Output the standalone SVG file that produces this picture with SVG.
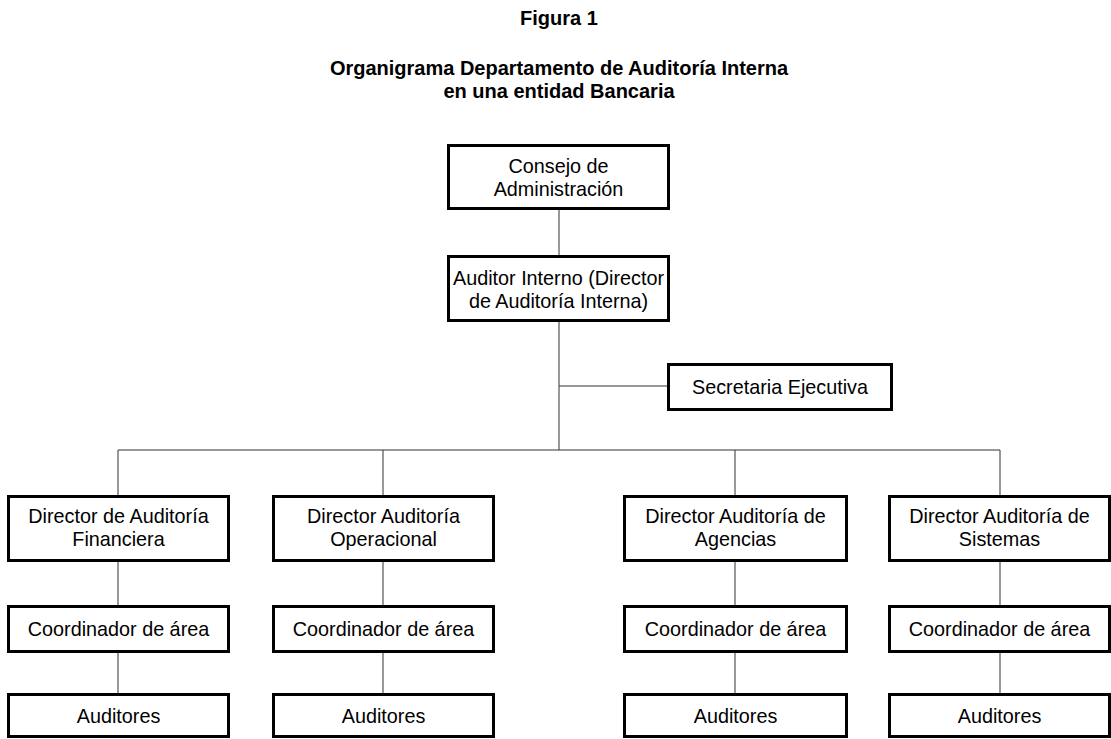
<svg xmlns="http://www.w3.org/2000/svg" width="1111" height="739" viewBox="0 0 1111 739">
<style>
.box{fill:#fff;stroke:#000;stroke-width:3}
.t{font-family:"Liberation Sans",Arial,sans-serif;font-size:19.8px;fill:#000;text-anchor:middle}
.h{font-family:"Liberation Sans",Arial,sans-serif;font-size:20px;font-weight:bold;fill:#000;text-anchor:middle}
.c{stroke:#333;stroke-width:1;fill:none}
</style>
<rect width="1111" height="739" fill="#fff"/>
<g id="title">
<text class="h" x="559" y="25">Figura 1</text>
<text class="h" x="559" y="75">Organigrama Departamento de Auditoría Interna</text>
<text class="h" x="559" y="98">en una entidad Bancaria</text>
</g>
<g id="connectors">
<path class="c" d="M559 210V255M559 322V450M559 386H667M118 450H1000M118 450V495M383 450V495M735 450V495M1000 450V495"/>
<path class="c" d="M118 562V605M383 562V605M735 562V605M1000 562V605M118 653V693M383 653V693M735 653V693M1000 653V693"/>
</g>
<g id="consejo"><rect class="box" x="448.5" y="145.5" width="220" height="63"/>
<text class="t" x="558.5" y="173">Consejo de</text><text class="t" x="558.5" y="196">Administración</text></g>
<g id="auditor-interno"><rect class="box" x="448.5" y="256.5" width="220" height="64"/>
<text class="t" x="558.5" y="285">Auditor Interno (Director</text><text class="t" x="558.5" y="308">de Auditoría Interna)</text></g>
<g id="secretaria"><rect class="box" x="668.5" y="364.5" width="223" height="45"/>
<text class="t" x="780" y="394">Secretaria Ejecutiva</text></g>
<g id="dir-financiera"><rect class="box" x="8.5" y="496.5" width="220" height="64"/>
<text class="t" x="118.5" y="523">Director de Auditoría</text><text class="t" x="118.5" y="546">Financiera</text></g>
<g id="dir-operacional"><rect class="box" x="273.5" y="496.5" width="220" height="64"/>
<text class="t" x="383.5" y="523">Director Auditoría</text><text class="t" x="383.5" y="546">Operacional</text></g>
<g id="dir-agencias"><rect class="box" x="624.5" y="496.5" width="222" height="64"/>
<text class="t" x="735.5" y="523">Director Auditoría de</text><text class="t" x="735.5" y="546">Agencias</text></g>
<g id="dir-sistemas"><rect class="box" x="889.5" y="496.5" width="220" height="64"/>
<text class="t" x="999.5" y="523">Director Auditoría de</text><text class="t" x="999.5" y="546">Sistemas</text></g>
<g id="coord-1"><rect class="box" x="8.5" y="606.5" width="220" height="45"/><text class="t" x="118.5" y="636">Coordinador de área</text></g>
<g id="coord-2"><rect class="box" x="273.5" y="606.5" width="220" height="45"/><text class="t" x="383.5" y="636">Coordinador de área</text></g>
<g id="coord-3"><rect class="box" x="624.5" y="606.5" width="222" height="45"/><text class="t" x="735.5" y="636">Coordinador de área</text></g>
<g id="coord-4"><rect class="box" x="889.5" y="606.5" width="220" height="45"/><text class="t" x="999.5" y="636">Coordinador de área</text></g>
<g id="auditores-1"><rect class="box" x="8.5" y="694.5" width="220" height="42"/><text class="t" x="118.5" y="723">Auditores</text></g>
<g id="auditores-2"><rect class="box" x="273.5" y="694.5" width="220" height="42"/><text class="t" x="383.5" y="723">Auditores</text></g>
<g id="auditores-3"><rect class="box" x="624.5" y="694.5" width="222" height="42"/><text class="t" x="735.5" y="723">Auditores</text></g>
<g id="auditores-4"><rect class="box" x="889.5" y="694.5" width="220" height="42"/><text class="t" x="999.5" y="723">Auditores</text></g>
</svg>
